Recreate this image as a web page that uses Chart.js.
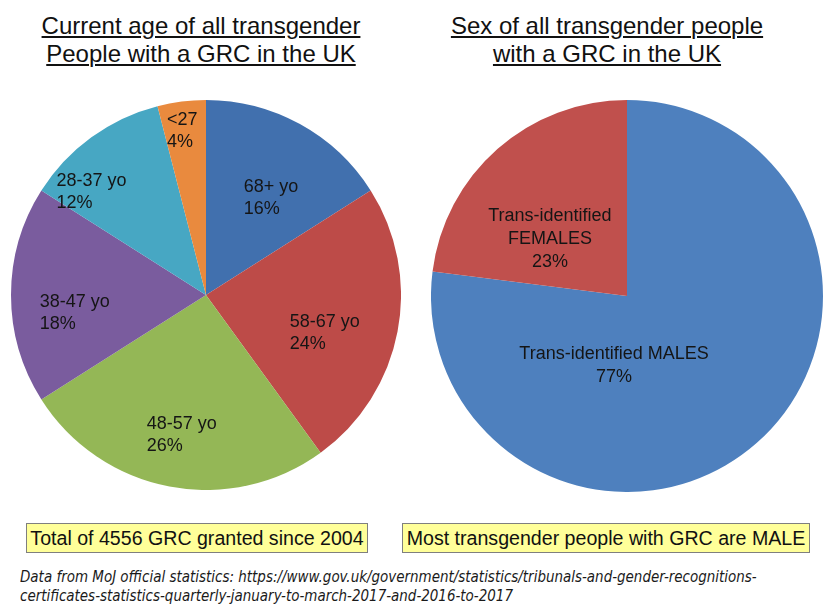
<!DOCTYPE html>
<html>
<head>
<meta charset="utf-8">
<script src="https://cdn.jsdelivr.net/npm/chart.js@4.4.1/dist/chart.umd.min.js"></script>
<style>
    body {
        margin: 0;
        width: 832px;
        height: 609px;
        background: #ffffff;
        position: relative;
        overflow: hidden;
        font-family: "Liberation Sans", Arial, sans-serif;
    }
    .title {
        position: absolute;
        top: 12px;
        width: 400px;
        text-align: center;
        font-size: 24px;
        line-height: 28px;
        color: #111111;
        text-decoration: underline;
        text-decoration-thickness: 2px;
        text-underline-offset: 2px;
    }
    .pie {
        position: absolute;
    }
    .note {
        position: absolute;
        top: 523px;
        height: 30px;
        box-sizing: border-box;
        background: #ffff99;
        border: 1px solid #7f7f7f;
        font-size: 19.6px;
        line-height: 28px;
        text-align: center;
        color: #111111;
        white-space: nowrap;
    }
    .source {
        position: absolute;
        left: 20px;
        top: 567px;
        font-family: "Liberation Sans Narrow", "Arial Narrow", "DejaVu Sans Condensed", sans-serif;
        font-style: italic;
        font-size: 16px;
        line-height: 19px;
        color: #1a1a1a;
        white-space: nowrap;
        transform: scaleX(0.935);
        transform-origin: left top;
    }
</style>
</head>
<body>

<div class="title" style="left: 1px;">Current age of all transgender<br>People with a GRC in the UK</div>
<div class="title" style="left: 407px;">Sex of all transgender people<br>with a GRC in the UK</div>

<canvas id="agePie" class="pie" width="390" height="390" style="left: 11px; top: 100px;"></canvas>
<canvas id="sexPie" class="pie" width="392" height="392" style="left: 431px; top: 100px;"></canvas>

<div class="note" style="left: 26px; width: 342px;">Total of 4556 GRC granted since 2004</div>
<div class="note" style="left: 402px; width: 408px;">Most transgender people with GRC are MALE</div>

<div class="source">Data from MoJ official statistics: https://www.gov.uk/government/statistics/tribunals-and-gender-recognitions-<br>certificates-statistics-quarterly-january-to-march-2017-and-2016-to-2017</div>

<script>
// Data
const ageGroups = ['68+ yo', '58-67 yo', '48-57 yo', '38-47 yo', '28-37 yo', '<27'];
const agePercent = [16, 24, 26, 18, 12, 4];

const sexGroups = ['Trans-identified MALES', 'Trans-identified\nFEMALES'];
const sexPercent = [77, 23];

const ageColors = ['#4170ae', '#bd4b48', '#94b756', '#7a5c9e', '#47a7c3', '#e98a3e'];
const sexColors = ['#4e80be', '#c0504d'];

// Draws the text labels inside each slice
const sliceLabels = {
    id: 'sliceLabels',
    afterDatasetsDraw(chart, args, opts) {
        const ctx = chart.ctx;
        const meta = chart.getDatasetMeta(0);
        const values = chart.data.datasets[0].data;
        ctx.save();
        ctx.font = opts.font;
        ctx.fillStyle = opts.color;
        ctx.textBaseline = 'middle';
        meta.data.forEach((arc, i) => {
            const p = arc.getProps(['x', 'y', 'startAngle', 'endAngle', 'outerRadius'], true);
            const angle = (p.startAngle + p.endAngle) / 2 + (opts.angleShift[i] || 0) * Math.PI / 180;
            const r = p.outerRadius * opts.radius[i];
            const cx = p.x + Math.cos(angle) * r;
            const cy = p.y + Math.sin(angle) * r;
            const lines = chart.data.labels[i].split('\n').concat([values[i] + '%']);
            const maxW = Math.max(...lines.map(l => ctx.measureText(l).width));
            lines.forEach((line, j) => {
                const y = cy + (j - (lines.length - 1) / 2) * opts.lineHeight;
                if (opts.align === 'left') {
                    ctx.textAlign = 'left';
                    ctx.fillText(line, cx - maxW / 2, y);
                } else {
                    ctx.textAlign = 'center';
                    ctx.fillText(line, cx, y);
                }
            });
        });
        ctx.restore();
    }
};

function makePie(id, labels, values, colors, labelOpts) {
    return new Chart(document.getElementById(id), {
        type: 'pie',
        data: {
            labels: labels,
            datasets: [{
                data: values,
                backgroundColor: colors,
                borderWidth: 0
            }]
        },
        options: {
            responsive: false,
            animation: false,
            layout: { padding: 0 },
            plugins: {
                legend: { display: false },
                tooltip: { enabled: false },
                sliceLabels: labelOpts
            }
        },
        plugins: [sliceLabels]
    });
}

makePie('agePie', ageGroups, agePercent, ageColors, {
    font: '18px "Liberation Sans", Arial, sans-serif',
    color: '#151515',
    lineHeight: 22,
    align: 'left',
    radius: [0.6, 0.64, 0.73, 0.68, 0.79, 0.85],
    angleShift: [5, 7, -1, -8, -12, -1]
});

makePie('sexPie', sexGroups, sexPercent, sexColors, {
    font: '18px "Liberation Sans", Arial, sans-serif',
    color: '#151515',
    lineHeight: 23,
    align: 'center',
    radius: [0.36, 0.49],
    angleShift: [52, -12]
});
</script>
</body>
</html>
